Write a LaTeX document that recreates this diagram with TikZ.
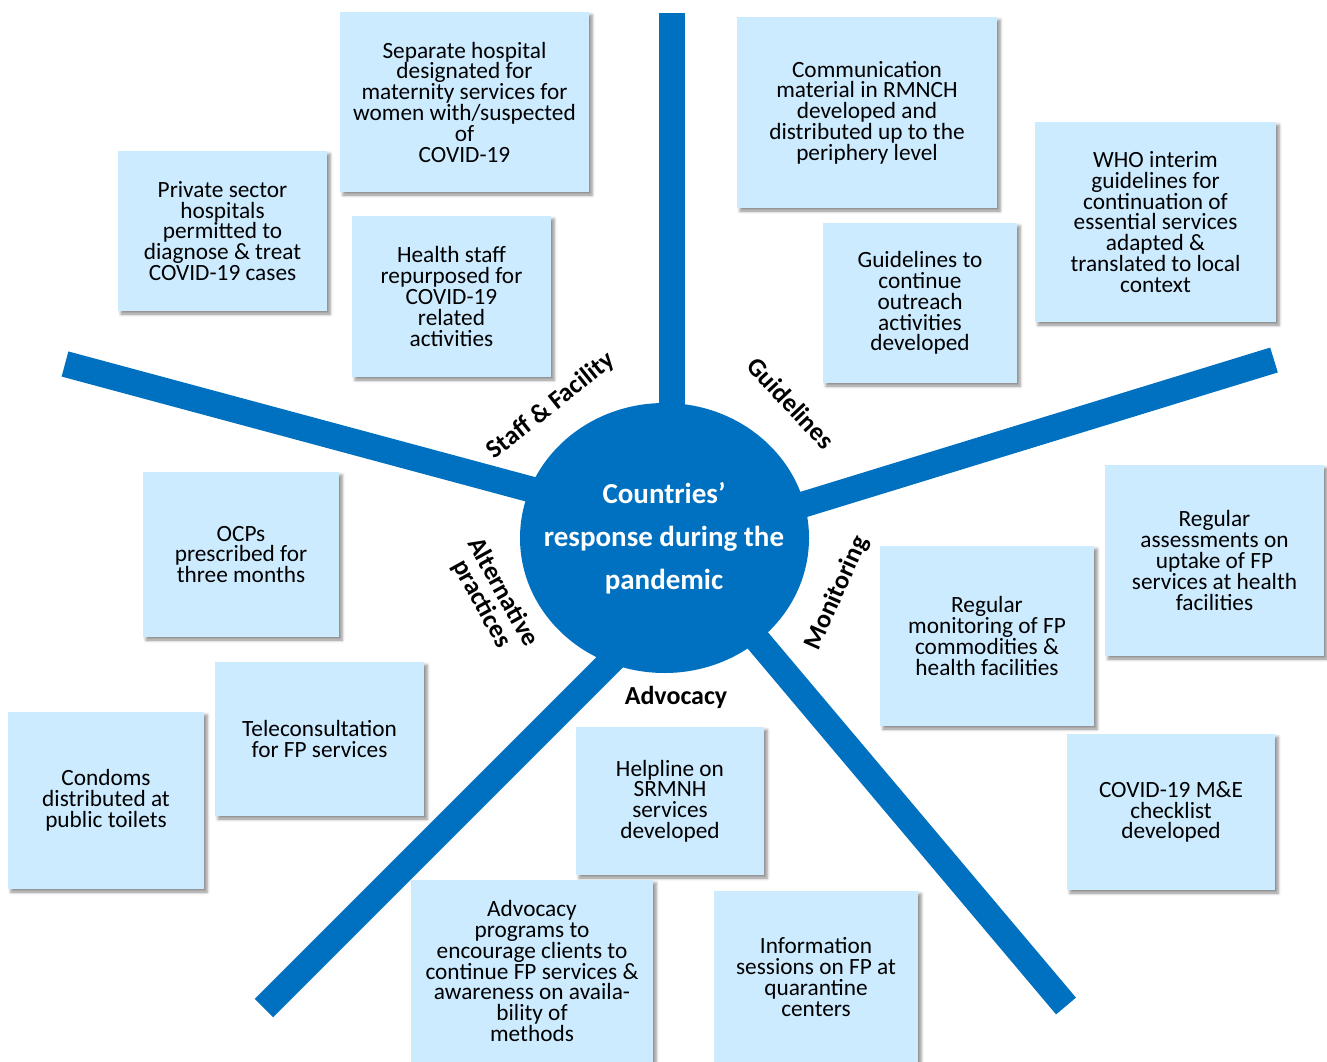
\documentclass[tikz,border=0pt]{standalone}
\usepackage{fontspec}
\setmainfont{Carlito}
\usetikzlibrary{shapes.geometric,shadows,shadows.blur}
\definecolor{spokeblue}{HTML}{0070C0}
\definecolor{boxfill}{HTML}{CCEBFF}
\begin{document}
\begin{tikzpicture}[x=1pt,y=-1pt,
  card/.style={draw=none, fill=boxfill, align=center, inner sep=0pt,
    font=\fontsize{23.3}{20.8}\selectfont,
    blur shadow={shadow xshift=3pt, shadow yshift=-3pt, shadow blur radius=3pt, shadow opacity=45}},
  spoke/.style={draw=spokeblue, line width=26pt},
  lab/.style={font=\fontsize{26}{24}\bfseries\selectfont, inner sep=0pt, align=center}
]
\useasboundingbox (0,0) rectangle (1327,1062);
\clip (0,0) rectangle (1327,1062);

% spoke ends
\coordinate (eT) at (671.5,13);   \coordinate (iT) at (671.5,538);
\coordinate (eL) at (65,364);     \coordinate (iL) at (665,525.5);
\coordinate (eR) at (1274,360);   \coordinate (iR) at (665,547);
\coordinate (eBL) at (264,1008);  \coordinate (iBL) at (665,607);
\coordinate (eBR) at (1066,1006); \coordinate (iBR) at (690,560);

\draw[spoke] (eT) -- (iT);
\draw[spoke] (eL) -- (iL);
\draw[spoke] (eR) -- (iR);
\draw[spoke] (eBL) -- (iBL);
\draw[spoke] (eBR) -- (iBR);

\node[ellipse, fill=spokeblue, minimum width=289pt, minimum height=270pt, inner sep=0pt] (hub) at (664.5,538) {};
\node[font=\fontsize{29}{43}\bfseries\selectfont, text=white, align=center, inner sep=0pt] (hubtext) at (664,538)
  {Countries’\\response during the\\pandemic};

% labels
\node[lab, rotate=38.6] (lstaff) at (551,406) {Staff \& Facility};
\node[lab, rotate=-47] (lguide) at (791,403) {Guidelines};
\node[lab, rotate=66] (lmon) at (837,593) {Monitoring};
\node[lab, rotate=-61] (lalt) at (492,598) {Alternative\\practices};
\node[lab] (ladv) at (676,697) {Advocacy};

% cards
\node[card, minimum width=249pt, minimum height=180pt] (sep) at (464.5,102)
  {Separate hospital\\designated for\\maternity services for\\women with/suspected\\of\\COVID-19};
\node[card, minimum width=209pt, minimum height=160pt] (priv) at (222.5,231)
  {Private sector\\hospitals\\permitted to\\diagnose \& treat\\COVID-19 cases};
\node[card, minimum width=199pt, minimum height=161pt] (staff) at (451.5,296.5)
  {Health staff\\repurposed for\\COVID-19\\related\\activities};
\node[card, minimum width=260pt, minimum height=191pt] (comm) at (867,112.5)
  {Communication\\material in RMNCH\\developed and\\distributed up to the\\periphery level};
\node[card, minimum width=194pt, minimum height=160pt] (outreach) at (920,303)
  {Guidelines to\\continue\\outreach\\activities\\developed};
\node[card, minimum width=241pt, minimum height=200pt] (who) at (1155.5,222)
  {WHO interim\\guidelines for\\continuation of\\essential services\\adapted \&\\translated to local\\context};
\node[card, minimum width=196pt, minimum height=165pt] (ocp) at (241,554.5)
  {OCPs\\prescribed for\\three months};
\node[card, minimum width=209pt, minimum height=154pt] (tele) at (319.5,739)
  {Teleconsultation\\for FP services};
\node[card, minimum width=196pt, minimum height=177pt] (condom) at (106,800.5)
  {Condoms\\distributed at\\public toilets};
\node[card, minimum width=188pt, minimum height=148pt] (help) at (670,801)
  {Helpline on\\SRMNH\\services\\developed};
\node[card, minimum width=242pt, minimum height=182pt] (advprog) at (532,971)
  {Advocacy\\programs to\\encourage clients to\\continue FP services \&\\awareness on availa-\\bility of\\methods};
\node[card, minimum width=204pt, minimum height=172pt] (info) at (816,977)
  {Information\\sessions on FP at\\quarantine\\centers};
\node[card, minimum width=214pt, minimum height=180pt] (regmon) at (987,636)
  {Regular\\monitoring of FP\\commodities \&\\health facilities};
\node[card, minimum width=219pt, minimum height=191pt] (regass) at (1214.5,560.5)
  {Regular\\assessments on\\uptake of FP\\services at health\\facilities};
\node[card, minimum width=208pt, minimum height=156pt] (me) at (1171,812)
  {COVID-19 M\&E\\checklist\\developed};
\end{tikzpicture}
\end{document}
